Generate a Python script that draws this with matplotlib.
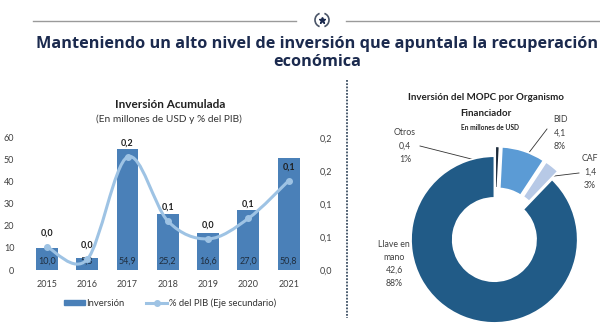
import numpy as np
import matplotlib
matplotlib.use('Agg')
import matplotlib.pyplot as plt
from matplotlib.path import Path
from matplotlib.patches import PathPatch, Patch, Arc
from matplotlib.lines import Line2D

# datos
years = ['2015', '2016', '2017', '2018', '2019', '2020', '2021']
inversion = [10.0, 5.3, 54.9, 25.2, 16.6, 27.0, 50.8]
pct_pib = [0.035, 0.016, 0.171, 0.074, 0.047, 0.078, 0.135]
left_ticks = [0, 10, 20, 30, 40, 50, 60]
right_ticks = [0.0, 0.05, 0.10, 0.15, 0.20]
right_tick_labels = ['0,0', '0,1', '0,1', '0,2', '0,2']

organismos = ['Otros', 'BID', 'CAF', 'Llave en\nmano']
montos = [0.4, 4.1, 1.4, 42.6]
porcentajes = ['1%', '8%', '3%', '88%']

plt.rcParams['font.family'] = ['Lato', 'DejaVu Sans']

W, H = 600, 324
fig = plt.figure(figsize=(6, 3.24), dpi=100)
fig.patch.set_facecolor('white')

# capa en pixeles para textos y lineas
ov = fig.add_axes([0, 0, 1, 1])
ov.set_xlim(0, W)
ov.set_ylim(H, 0)
ov.axis('off')

navy = '#1b2a4e'
ov.plot([33, 296], [21, 21], color='#9a9a9a', lw=1)
ov.plot([346, 600], [21, 21], color='#9a9a9a', lw=1)
ov.add_patch(Arc((322, 20), 14, 14, theta1=110, theta2=250, color='#4a5568', lw=1.2))
ov.add_patch(Arc((322, 20), 14, 14, theta1=-70, theta2=70, color='#4a5568', lw=1.2))
ov.plot([322], [20], marker='*', ms=5, color=navy)
ov.text(317, 44, 'Manteniendo un alto nivel de inversión que apuntala la recuperación',
        ha='center', va='center', fontsize=11.7, fontweight='bold', color=navy,
        family=['Open Sans', 'DejaVu Sans'])
ov.text(317, 62, 'económica', ha='center', va='center', fontsize=11.7,
        fontweight='bold', color=navy, family=['Open Sans', 'DejaVu Sans'])
ov.plot([347, 347], [80, 318], color='#3d4f63', lw=1.3, ls=(0, (1, 0.8)))

# ---- grafico de barras ----
ax = fig.add_axes([26.8 / W, 54 / H, 282 / W, 132.3 / H])
x = np.arange(len(years))
bar_color = '#4a80b8'
ax.bar(x, inversion, width=0.54, color=bar_color)
ax.set_xlim(-0.5, 6.5)
ax.set_ylim(0, 60)
ax.set_yticks(left_ticks)
ax.set_xticks(x)
ax.set_xticklabels(years)
ax.tick_params(length=0, labelsize=6.5, colors='#404040', pad=9)
ax.tick_params(axis='x', pad=7)
for s in ax.spines.values():
    s.set_visible(False)
for xi, v in zip(x, inversion):
    ax.text(xi, 4.2, f'{v:.1f}'.replace('.', ','), ha='center', va='center',
            fontsize=6.5, color='#1f2d3d')

ax2 = ax.twinx()
ax2.set_ylim(0, 0.2)
ax2.set_yticks(right_ticks)
ax2.set_yticklabels(right_tick_labels)
ax2.tick_params(length=0, labelsize=6.5, colors='#404040', pad=8)
for s in ax2.spines.values():
    s.set_visible(False)

# linea suavizada (bezier tipo catmull-rom)
line_color = '#9ec3e4'
pts = np.column_stack([x, pct_pib]).astype(float)
ext = np.vstack([pts[0], pts, pts[-1]])
verts = [tuple(pts[0])]
codes = [Path.MOVETO]
for i in range(len(pts) - 1):
    p0, p1, p2, p3 = ext[i], ext[i + 1], ext[i + 2], ext[i + 3]
    c1 = p1 + (p2 - p0) / 6
    c2 = p2 - (p3 - p1) / 6
    verts += [tuple(c1), tuple(c2), tuple(p2)]
    codes += [Path.CURVE4] * 3
ax2.add_patch(PathPatch(Path(verts, codes), fill=False, edgecolor=line_color,
                        lw=2.2, capstyle='round'))
ax2.plot(x, pct_pib, 'o', ms=4, color=line_color)
for xi, v in zip(x, pct_pib):
    ax2.annotate(f'{v:.1f}'.replace('.', ','), (xi, v), xytext=(0, 10),
                 textcoords='offset points', ha='center', va='center',
                 fontsize=6.5, fontweight='bold', color='#1f1f1f')

ov.text(170, 104, 'Inversión Acumulada', ha='center', va='center',
        fontsize=8.5, fontweight='bold', color='#222222')
ov.text(169, 119, '(En millones de USD y % del PIB)', ha='center', va='center',
        fontsize=7.3, color='#333333')

handles = [Patch(color=bar_color, label='Inversión'),
           Line2D([0], [0], color=line_color, lw=2.2, marker='o', ms=4,
                  markevery=[1], label='% del PIB (Eje secundario)')]
fig.legend(handles=handles, loc='center', bbox_to_anchor=(170 / W, 1 - 303 / H),
           ncol=2, frameon=False, fontsize=6.8, handlelength=2.2, handleheight=0.5,
           columnspacing=2.3, handletextpad=0.2, labelcolor='#333333')

# ---- dona ----
pax = fig.add_axes([(495 - 100) / W, (H - 338) / H, 200 / W, 200 / H])
colors = ['#1c2a3a', '#5b9bd5', '#b7c9e6', '#215b87']
pax.pie(montos, colors=colors, startangle=90, counterclock=False,
        explode=[0.1, 0.1, 0.1, 0.02], radius=1,
        wedgeprops=dict(width=0.5, edgecolor='white', linewidth=1.2))
pax.set_xlim(-1.2, 1.2)
pax.set_ylim(-1.2, 1.2)
pax.set_aspect('equal')

ov.text(486, 97, 'Inversión del MOPC por Organismo', ha='center', va='center',
        fontsize=7, fontweight='bold', color='#222222')
ov.text(486, 113, 'Financiador', ha='center', va='center',
        fontsize=7, fontweight='bold', color='#222222')
ov.text(490, 127, 'En millones de USD', ha='center', va='center',
        fontsize=4.8, fontweight='bold', color='#222222')

label_pos = [(405, 146), (560, 133), (590, 172), (394, 264)]
line_from = [(420, 146), (547, 129), (579, 173), (415, 263)]
line_to = [(495, 165), (518, 167), (538, 178), (478, 295)]
for name, m, pc, (lx, ly), (ax0, ay0), (ax1, ay1) in zip(
        organismos, montos, porcentajes, label_pos, line_from, line_to):
    txt = f'{name}\n' + f'{m:.1f}'.replace('.', ',') + f'\n{pc}'
    ov.text(lx, ly, txt, ha='center', va='center', fontsize=6.3,
            color='#404040', linespacing=1.6)
    ov.plot([ax0, ax1], [ay0, ay1], color='#333333', lw=0.6)

fig.savefig('out.png', dpi=100, facecolor='white')
